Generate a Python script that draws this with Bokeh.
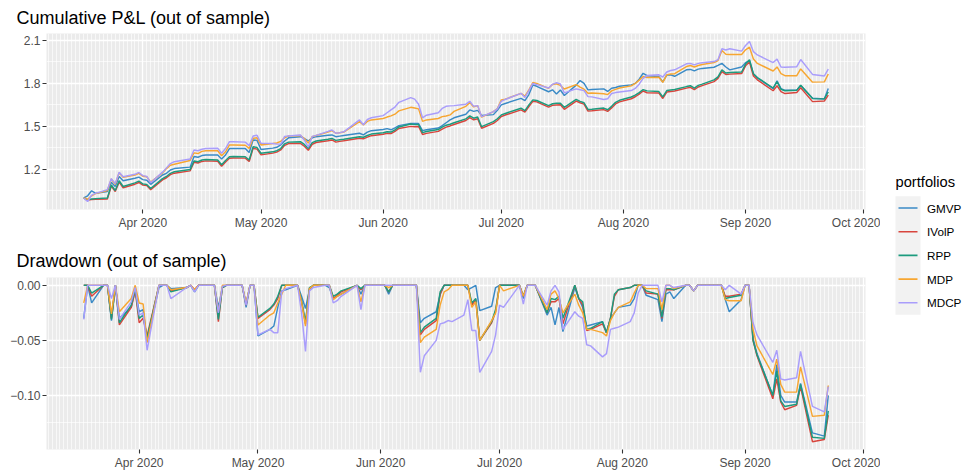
import pandas as pd
from bokeh.plotting import figure
from bokeh.layouts import row, column
from bokeh.models import Range1d, FixedTicker, DatetimeTickFormatter, CustomJSTickFormatter, Title
from bokeh.embed import file_html
from bokeh.resources import INLINE
from bokeh.core.properties import value

FONT = "Liberation Sans"

# ---------------- dates (trading days) ----------------
d_mar = ["2020-03-18", "2020-03-19", "2020-03-20", "2020-03-23", "2020-03-24", "2020-03-25",
         "2020-03-26", "2020-03-27", "2020-03-30", "2020-03-31"]
d_apr_a = ["2020-04-01", "2020-04-02", "2020-04-03", "2020-04-06", "2020-04-07", "2020-04-08",
           "2020-04-09", "2020-04-13", "2020-04-14", "2020-04-15", "2020-04-16", "2020-04-17"]
d_apr_b = ["2020-04-20", "2020-04-21", "2020-04-22", "2020-04-23", "2020-04-24", "2020-04-27",
           "2020-04-28", "2020-04-29", "2020-04-30"]
d_may_a = ["2020-05-01", "2020-05-04", "2020-05-05", "2020-05-06", "2020-05-07", "2020-05-08",
           "2020-05-11", "2020-05-12", "2020-05-13", "2020-05-14", "2020-05-15"]
d_may_b = ["2020-05-18", "2020-05-19", "2020-05-20", "2020-05-21", "2020-05-22", "2020-05-26",
           "2020-05-27", "2020-05-28", "2020-05-29"]
d_jun_a = ["2020-06-01", "2020-06-02", "2020-06-03", "2020-06-04", "2020-06-05", "2020-06-08",
           "2020-06-09", "2020-06-10", "2020-06-11", "2020-06-12"]
d_jun_b = ["2020-06-15", "2020-06-16", "2020-06-17", "2020-06-18", "2020-06-19", "2020-06-22",
           "2020-06-23", "2020-06-24", "2020-06-25", "2020-06-26", "2020-06-29", "2020-06-30"]
d_jul_a = ["2020-07-01", "2020-07-02", "2020-07-06", "2020-07-07", "2020-07-08", "2020-07-09",
           "2020-07-10", "2020-07-13", "2020-07-14", "2020-07-15", "2020-07-16", "2020-07-17"]
d_jul_b = ["2020-07-20", "2020-07-21", "2020-07-22", "2020-07-23", "2020-07-24", "2020-07-27",
           "2020-07-28", "2020-07-29", "2020-07-30", "2020-07-31"]
d_aug_a = ["2020-08-03", "2020-08-04", "2020-08-05", "2020-08-06", "2020-08-07", "2020-08-10",
           "2020-08-11", "2020-08-12", "2020-08-13", "2020-08-14"]
d_aug_b = ["2020-08-17", "2020-08-18", "2020-08-19", "2020-08-20", "2020-08-21", "2020-08-24",
           "2020-08-25", "2020-08-26", "2020-08-27", "2020-08-28", "2020-08-31"]
d_sep = ["2020-09-01", "2020-09-02", "2020-09-03", "2020-09-04", "2020-09-08", "2020-09-09",
         "2020-09-10", "2020-09-11", "2020-09-14", "2020-09-15", "2020-09-18", "2020-09-21",
         "2020-09-22"]

dd_dates = (d_mar + d_apr_a + d_apr_b + d_may_a + d_may_b + d_jun_a + d_jun_b
            + d_jul_a + d_jul_b + d_aug_a + d_aug_b + d_sep)
pnl_dates = ["2020-03-17"] + dd_dates

portfolios = ["GMVP", "IVolP", "RPP", "MDP", "MDCP"]
colors = ["#3A8AC6", "#D8453D", "#1C9B7E", "#F7A631", "#A99DFB"]

# ---------------- cumulative P&L ----------------
gmvp_pnl = [1.000, 1.015, 1.050, 1.032, 1.045, 1.110, 1.080, 1.150, 1.120, 1.138, 1.145,
            1.128, 1.124, 1.095, 1.160, 1.172, 1.195, 1.205, 1.215, 1.290, 1.284, 1.296, 1.300,
            1.300, 1.272, 1.300, 1.345, 1.345, 1.346, 1.318, 1.405, 1.402,
            1.338, 1.348, 1.354, 1.370, 1.398, 1.420, 1.428, 1.415, 1.398, 1.420, 1.428,
            1.438, 1.440, 1.428, 1.432, 1.436, 1.452, 1.440, 1.460, 1.470,
            1.478, 1.484, 1.476, 1.490, 1.505, 1.521, 1.520, 1.520, 1.470, 1.476,
            1.488, 1.505, 1.525, 1.545, 1.560, 1.585, 1.615, 1.605, 1.612, 1.576, 1.582, 1.612,
            1.650, 1.660, 1.696, 1.680, 1.722, 1.790, 1.780, 1.742, 1.755, 1.726, 1.754, 1.716,
            1.788, 1.820, 1.800, 1.755, 1.758, 1.762, 1.744, 1.766, 1.772, 1.780,
            1.790, 1.800, 1.830, 1.871, 1.854, 1.848, 1.810, 1.858, 1.860, 1.850,
            1.895, 1.898, 1.888, 1.900, 1.905, 1.913, 1.926, 1.940, 1.915, 1.895, 1.915,
            1.945, 1.960, 1.866, 1.838, 1.764, 1.819, 1.764, 1.752, 1.752, 1.786, 1.697, 1.691, 1.764]
ivolp_pnl = [0.998, 0.985, 0.988, 0.990, 0.992, 1.083, 1.045, 1.111, 1.071, 1.096, 1.108,
             1.090, 1.086, 1.058, 1.126, 1.141, 1.163, 1.173, 1.189, 1.249, 1.244, 1.255, 1.259,
             1.256, 1.221, 1.251, 1.277, 1.279, 1.278, 1.255, 1.347, 1.341,
             1.301, 1.313, 1.320, 1.335, 1.367, 1.380, 1.381, 1.361, 1.333, 1.375, 1.387,
             1.399, 1.405, 1.390, 1.395, 1.399, 1.417, 1.413, 1.425, 1.435,
             1.445, 1.451, 1.450, 1.465, 1.485, 1.500, 1.497, 1.499, 1.443, 1.451,
             1.465, 1.481, 1.495, 1.503, 1.513, 1.541, 1.561, 1.545, 1.553, 1.487, 1.521, 1.541,
             1.569, 1.579, 1.615, 1.599, 1.639, 1.675, 1.671, 1.635, 1.647, 1.649, 1.651, 1.619,
             1.677, 1.665, 1.655, 1.607, 1.609, 1.617, 1.605, 1.629, 1.657, 1.671,
             1.693, 1.707, 1.725, 1.747, 1.735, 1.733, 1.695, 1.740, 1.743, 1.747,
             1.767, 1.773, 1.757, 1.775, 1.785, 1.813, 1.835, 1.883, 1.863, 1.865, 1.869,
             1.923, 1.950, 1.852, 1.825, 1.749, 1.784, 1.743, 1.729, 1.737, 1.770, 1.673, 1.677, 1.719]
rpp_pnl = [1.000, 0.988, 0.993, 0.995, 1.000, 1.090, 1.052, 1.120, 1.080, 1.105, 1.118,
           1.098, 1.094, 1.066, 1.135, 1.150, 1.172, 1.183, 1.198, 1.258, 1.253, 1.265, 1.268,
           1.265, 1.232, 1.262, 1.288, 1.290, 1.288, 1.265, 1.358, 1.352,
           1.312, 1.322, 1.330, 1.345, 1.378, 1.390, 1.393, 1.374, 1.346, 1.386, 1.398,
           1.410, 1.416, 1.402, 1.406, 1.410, 1.428, 1.424, 1.436, 1.446,
           1.455, 1.462, 1.460, 1.476, 1.496, 1.517, 1.512, 1.513, 1.456, 1.464,
           1.478, 1.494, 1.508, 1.515, 1.525, 1.552, 1.573, 1.557, 1.565, 1.498, 1.533, 1.553,
           1.580, 1.590, 1.627, 1.610, 1.650, 1.685, 1.681, 1.645, 1.658, 1.662, 1.662, 1.633,
           1.688, 1.675, 1.665, 1.618, 1.620, 1.628, 1.616, 1.640, 1.668, 1.682,
           1.705, 1.718, 1.736, 1.757, 1.748, 1.743, 1.706, 1.750, 1.754, 1.758,
           1.778, 1.784, 1.767, 1.786, 1.795, 1.825, 1.846, 1.895, 1.873, 1.876, 1.880,
           1.935, 1.965, 1.867, 1.841, 1.768, 1.812, 1.759, 1.749, 1.753, 1.788, 1.694, 1.692, 1.741]
mdp_pnl = [1.000, 0.990, 1.015, 1.030, 1.052, 1.132, 1.095, 1.176, 1.144, 1.160, 1.172,
           1.152, 1.148, 1.110, 1.175, 1.205, 1.228, 1.235, 1.262, 1.315, 1.310, 1.325, 1.330,
           1.330, 1.295, 1.322, 1.370, 1.370, 1.368, 1.345, 1.417, 1.420,
           1.370, 1.380, 1.384, 1.395, 1.420, 1.433, 1.436, 1.415, 1.383, 1.428, 1.436,
           1.460, 1.470, 1.452, 1.456, 1.460, 1.533, 1.510, 1.535, 1.545,
           1.555, 1.565, 1.573, 1.585, 1.608, 1.633, 1.628, 1.622, 1.535, 1.545,
           1.555, 1.568, 1.572, 1.580, 1.605, 1.640, 1.666, 1.636, 1.645, 1.564, 1.603, 1.625,
           1.685, 1.690, 1.731, 1.712, 1.755, 1.806, 1.800, 1.766, 1.792, 1.797, 1.786, 1.761,
           1.792, 1.774, 1.760, 1.731, 1.733, 1.728, 1.722, 1.748, 1.758, 1.768,
           1.783, 1.800, 1.823, 1.848, 1.842, 1.843, 1.808, 1.860, 1.866, 1.868,
           1.918, 1.925, 1.915, 1.925, 1.932, 1.946, 1.960, 2.030, 2.004, 2.002, 2.002,
           2.035, 2.053, 1.971, 1.940, 1.887, 1.915, 1.868, 1.854, 1.854, 1.901, 1.809, 1.811, 1.866]
mdcp_pnl = [0.998, 0.975, 1.020, 1.032, 1.058, 1.135, 1.100, 1.180, 1.148, 1.165, 1.178,
            1.156, 1.150, 1.106, 1.180, 1.210, 1.240, 1.253, 1.272, 1.335, 1.330, 1.340, 1.345,
            1.347, 1.312, 1.345, 1.393, 1.393, 1.390, 1.365, 1.433, 1.438,
            1.382, 1.380, 1.376, 1.376, 1.430, 1.433, 1.440, 1.405, 1.354, 1.430, 1.437,
            1.465, 1.475, 1.452, 1.456, 1.462, 1.545, 1.511, 1.548, 1.560,
            1.575, 1.595, 1.615, 1.635, 1.668, 1.701, 1.690, 1.655, 1.560, 1.578,
            1.595, 1.625, 1.640, 1.643, 1.645, 1.655, 1.675, 1.640, 1.645, 1.568, 1.603, 1.622,
            1.675, 1.688, 1.731, 1.702, 1.750, 1.800, 1.792, 1.768, 1.794, 1.806, 1.796, 1.734,
            1.762, 1.756, 1.750, 1.708, 1.706, 1.688, 1.693, 1.730, 1.736, 1.740,
            1.750, 1.765, 1.795, 1.835, 1.855, 1.860, 1.845, 1.880, 1.890, 1.895,
            1.937, 1.940, 1.930, 1.940, 1.945, 1.953, 1.966, 2.042, 2.034, 2.042, 2.026,
            2.065, 2.093, 2.022, 1.999, 1.946, 1.970, 1.915, 1.913, 1.917, 1.967, 1.863, 1.852, 1.900]

# ---------------- drawdown ----------------
gmvp_dd = [-0.030, 0, -0.016, 0, 0, -0.032, 0, -0.030, -0.020, -0.004,
           -0.024, -0.022, -0.050, -0.002, 0, 0, -0.003, -0.002, 0, -0.006, 0, 0,
           0, -0.020, -0.002, 0, 0, 0, -0.020, 0, 0,
           -0.046, -0.040, -0.037, -0.020, -0.005, -0.004, 0, -0.010, -0.021, -0.004, 0,
           0, -0.002, -0.012, -0.010, -0.008, 0, -0.008, 0, 0,
           0, 0, -0.008, 0, 0, 0, 0, 0, -0.034, -0.030,
           -0.024, -0.008, 0, 0, 0, 0, -0.004, -0.002, 0, -0.023, -0.019, -0.002,
           0, 0, 0, -0.012, 0, 0, 0, -0.027, -0.020, -0.036, -0.020, -0.042,
           -0.002, -0.012, -0.020, -0.037, -0.036, -0.033, -0.043, -0.030, -0.025, -0.020,
           -0.018, -0.012, 0, 0, -0.009, -0.013, -0.033, -0.008, -0.006, -0.012,
           0, 0, -0.005, 0, 0, 0, 0, 0, -0.013, -0.024, -0.013,
           0, 0, -0.048, -0.062, -0.100, -0.072, -0.100, -0.106, -0.106, -0.089, -0.134, -0.137, -0.100]
ivolp_dd = [0, 0, -0.010, 0, 0, -0.030, 0, -0.036, -0.020, -0.005,
            -0.034, -0.030, -0.046, 0, 0, 0, -0.005, -0.002, 0, -0.004, 0, 0,
            0, -0.033, -0.002, 0, 0, 0, -0.018, 0, 0,
            -0.030, -0.022, -0.018, -0.012, 0, 0, 0, -0.015, -0.035, -0.003, 0,
            0, 0, -0.012, -0.009, -0.006, 0, -0.004, 0, 0,
            0, 0, -0.006, 0, 0, 0, 0, 0, -0.045, -0.040,
            -0.032, -0.008, 0, 0, 0, 0, 0, -0.018, -0.013, -0.050, -0.034, -0.024,
            0, 0, 0, -0.010, 0, 0, 0, -0.025, -0.015, -0.015, -0.012, -0.035,
            0, -0.012, -0.018, -0.041, -0.040, -0.035, -0.043, -0.030, -0.010, -0.004,
            -0.002, 0, 0, 0, -0.007, -0.008, -0.030, -0.004, -0.004, -0.004,
            0, 0, -0.005, 0, 0, 0, 0, 0, -0.010, -0.010, -0.008,
            0, 0, -0.050, -0.064, -0.103, -0.085, -0.106, -0.113, -0.109, -0.092, -0.142, -0.140, -0.118]
rpp_dd = [0, 0, -0.007, 0, 0, -0.031, 0, -0.034, -0.018, -0.003,
          -0.030, -0.027, -0.048, 0, 0, 0, -0.006, -0.002, 0, -0.005, 0, 0,
          0, -0.031, -0.002, 0, 0, 0, -0.017, 0, 0,
          -0.029, -0.021, -0.017, -0.010, 0, 0, 0, -0.014, -0.033, -0.002, 0,
          0, 0, -0.010, -0.008, -0.005, 0, -0.003, 0, 0,
          0, 0, -0.006, 0, 0, 0, 0, 0, -0.043, -0.038,
          -0.030, -0.006, 0, 0, 0, 0, 0, -0.016, -0.012, -0.050, -0.033, -0.022,
          0, 0, 0, -0.010, 0, 0, 0, -0.025, -0.012, -0.013, -0.010, -0.030,
          0, -0.012, -0.015, -0.040, -0.039, -0.033, -0.043, -0.030, -0.008, -0.004,
          -0.002, 0, 0, 0, -0.005, -0.008, -0.029, -0.003, -0.003, -0.004,
          0, 0, -0.005, 0, 0, 0, 0, 0, -0.012, -0.011, -0.009,
          0, 0, -0.050, -0.063, -0.100, -0.078, -0.105, -0.110, -0.108, -0.090, -0.138, -0.139, -0.114]
mdp_dd = [-0.016, 0, 0, 0, 0, -0.026, 0, -0.024, -0.012, 0,
          -0.016, -0.017, -0.052, 0, 0, 0, -0.004, -0.002, 0, -0.004, 0, 0,
          0, -0.024, 0, 0, 0, 0, -0.016, 0, 0,
          -0.036, -0.027, -0.025, -0.016, -0.008, 0, 0, -0.015, -0.037, -0.003, 0,
          0, 0, -0.013, -0.010, -0.008, 0, -0.015, 0, 0,
          0, 0, -0.002, 0, 0, 0, 0, 0, -0.052, -0.047,
          -0.040, -0.018, -0.006, -0.004, 0, 0, 0, -0.020, -0.015, -0.050, -0.032, -0.025,
          0, -0.005, 0, -0.010, 0, 0, 0, -0.022, -0.008, -0.005, -0.012, -0.025,
          -0.008, -0.018, -0.025, -0.040, -0.040, -0.043, -0.046, -0.032, -0.025, -0.020,
          -0.015, -0.007, 0, 0, -0.003, -0.003, -0.022, 0, 0, -0.003,
          0, 0, -0.005, 0, 0, 0, 0, 0, -0.013, -0.014, -0.014,
          0, 0, -0.040, -0.055, -0.081, -0.067, -0.090, -0.097, -0.097, -0.074, -0.119, -0.118, -0.091]
mdcp_dd = [-0.031, 0, 0, 0, 0, -0.012, 0, -0.031, -0.015, -0.002,
           -0.027, -0.025, -0.059, 0, 0, 0, -0.012, -0.002, 0, -0.006, 0, 0,
           0, -0.025, -0.001, 0, 0, 0, -0.018, 0, 0,
           -0.045, -0.040, -0.043, -0.043, -0.006, -0.003, 0, -0.025, -0.060, -0.005, -0.002,
           0, 0, -0.016, -0.014, -0.010, 0, -0.022, 0, 0,
           0, 0, 0, 0, 0, 0, 0, 0, -0.079, -0.064,
           -0.050, -0.035, -0.034, -0.032, -0.033, -0.027, -0.013, -0.041, -0.041, -0.079, -0.060, -0.045,
           -0.018, -0.020, 0, -0.017, 0, 0, 0, -0.018, -0.005, 0, -0.006, -0.040,
           -0.024, -0.028, -0.030, -0.054, -0.055, -0.065, -0.062, -0.040, -0.039, -0.038,
           -0.033, -0.025, -0.007, 0, 0, 0, -0.015, 0, 0, -0.002,
           0, 0, -0.005, 0, 0, 0, 0, 0, -0.004, 0, -0.008,
           0, 0, -0.034, -0.045, -0.070, -0.059, -0.085, -0.086, -0.084, -0.060, -0.110, -0.115, -0.092]

pnl_series = [gmvp_pnl, ivolp_pnl, rpp_pnl, mdp_pnl, mdcp_pnl]
dd_series = [gmvp_dd, ivolp_dd, rpp_dd, mdp_dd, mdcp_dd]
for s in pnl_series:
    assert len(s) == len(pnl_dates), len(s)
for s in dd_series:
    assert len(s) == len(dd_dates), len(s)

pnl_ticks = [1.2, 1.5, 1.8, 2.1]
pnl_minor = [1.05, 1.35, 1.65, 1.95]
dd_ticks = [-0.10, -0.05, 0.0]
dd_minor = [-0.125, -0.075, -0.025]

month_ticks = pd.date_range("2020-03-01", "2020-10-01", freq="MS")
day_ticks = pd.date_range("2020-03-01", "2020-10-10", freq="D")


def to_ms(idx):
    return [float(t.value // 10**6) for t in idx]


MONTH_MS = to_ms(month_ticks)
DAY_MS = to_ms(day_ticks)

TICK_COL = "#333333"
LAB_COL = "#4D4D4D"


def make_panel(title, dates, series, yticks, yminor, fmt_code, height, top_border,
               bottom_border, title_standoff):
    dts = pd.to_datetime(dates)
    ms = to_ms(dts)
    pad_x = 0.05 * (max(ms) - min(ms))
    lo = min(min(s) for s in series)
    hi = max(max(s) for s in series)
    pad_y = 0.05 * (hi - lo)
    p = figure(width=880, height=height, x_axis_type="datetime",
               x_range=Range1d(min(ms) - pad_x, max(ms) + pad_x),
               y_range=Range1d(lo - pad_y, hi + pad_y),
               output_backend="svg", toolbar_location=None,
               min_border_left=46, min_border_right=15,
               min_border_top=top_border, min_border_bottom=bottom_border)
    p.title = Title(text=title, text_font=FONT, text_font_size="18px",
                    text_font_style="normal", text_color="black",
                    align="left", offset=-30, standoff=title_standoff)
    p.background_fill_color = "#EBEBEB"
    p.border_fill_color = "white"
    p.outline_line_color = None

    xt = FixedTicker(ticks=MONTH_MS, minor_ticks=DAY_MS)
    yt = FixedTicker(ticks=yticks, minor_ticks=yminor)
    p.xaxis[0].ticker = xt
    p.yaxis[0].ticker = yt
    p.xaxis[0].formatter = DatetimeTickFormatter(
        days="%b %Y", months="%b %Y", years="%b %Y", hours="%b %Y",
        hourmin="%b %Y", minutes="%b %Y", minsec="%b %Y", seconds="%b %Y",
        milliseconds="%b %Y", microseconds="%b %Y")
    p.yaxis[0].formatter = CustomJSTickFormatter(code=fmt_code)
    for ax in (p.xaxis[0], p.yaxis[0]):
        ax.axis_line_color = None
        ax.major_tick_line_color = TICK_COL
        ax.major_tick_line_width = 1.1
        ax.major_tick_out = 4
        ax.major_tick_in = 0
        ax.minor_tick_line_color = None
        ax.major_label_text_font = FONT
        ax.major_label_text_font_size = "12px"
        ax.major_label_text_color = LAB_COL
        ax.major_label_standoff = 2

    p.xgrid[0].ticker = xt
    p.ygrid[0].ticker = yt
    for g in (p.xgrid[0], p.ygrid[0]):
        g.grid_line_color = "white"
        g.grid_line_width = 1.3
        g.minor_grid_line_color = "white"
        g.minor_grid_line_width = 0.65

    for vals, col in zip(series, colors):
        p.line(x=dts, y=vals, line_color=col, line_width=1.45)
    return p


p1 = make_panel("Cumulative P&L (out of sample)", pnl_dates, pnl_series,
                pnl_ticks, pnl_minor, "return tick.toFixed(1);", 232, 33, 22, 11)
p2 = make_panel("Drawdown (out of sample)", dd_dates, dd_series,
                dd_ticks, dd_minor,
                "return tick.toFixed(2).replace('-', '\\u2212');", 240, 45, 20, 13)

# ---------------- legend panel ----------------
LW, LH = 85, 472
leg = figure(width=LW, height=LH, x_range=Range1d(0, LW), y_range=Range1d(LH, 0),
             x_axis_type=None, y_axis_type=None, output_backend="svg",
             toolbar_location=None, min_border=0)
leg.outline_line_color = None
leg.background_fill_color = "white"
leg.border_fill_color = "white"
leg.grid.visible = False

key_y = [207.5 + 23.7 * i for i in range(len(portfolios))]
leg.text(x=[15], y=[181.5], text=["portfolios"], text_font=value(FONT),
         text_font_size="14.7px", text_baseline="middle", text_align="left",
         text_color="black")
leg.quad(left=[15], right=[40], top=[key_y[0] - 11.85], bottom=[key_y[-1] + 11.85],
         fill_color="#F2F2F2", line_color=None)
leg.segment(x0=[18] * len(key_y), x1=[37] * len(key_y), y0=key_y, y1=key_y,
            line_color=colors, line_width=1.6)
leg.text(x=[46.5] * len(key_y), y=key_y, text=portfolios, text_font=value(FONT),
         text_font_size="11.7px", text_baseline="middle", text_align="left",
         text_color="black")

layout = row(column(p1, p2), leg)
open("out.html", "w").write(file_html(layout, INLINE))
